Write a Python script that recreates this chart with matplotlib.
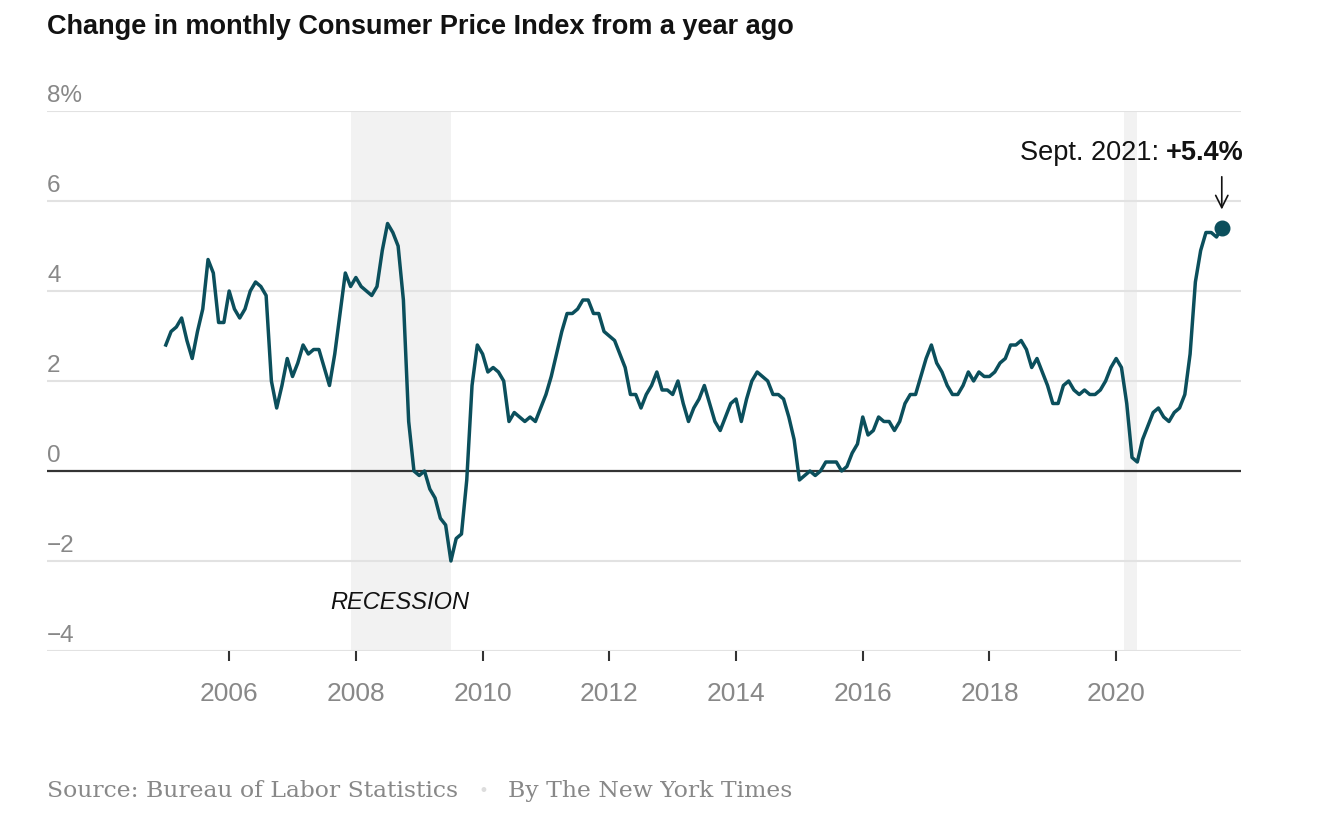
import numpy as np
import matplotlib.pyplot as plt

# Daten: Veraenderung des Verbraucherpreisindex zum Vorjahresmonat (%), Jan 2005 - Sep 2021
start_year = 2005
cpi_2005 = [2.8, 3.1, 3.2, 3.4, 2.9, 2.5, 3.1, 3.6, 4.7, 4.4, 3.3, 3.3]
cpi_2006 = [4.0, 3.6, 3.4, 3.6, 4.0, 4.2, 4.1, 3.9, 2.0, 1.4, 1.9, 2.5]
cpi_2007 = [2.1, 2.4, 2.8, 2.6, 2.7, 2.7, 2.3, 1.9, 2.6, 3.5, 4.4, 4.1]
cpi_2008 = [4.3, 4.1, 4.0, 3.9, 4.1, 4.9, 5.5, 5.3, 5.0, 3.8, 1.1, 0.0]
cpi_2009 = [-0.1, 0.0, -0.4, -0.6, -1.05, -1.2, -2.0, -1.5, -1.4, -0.2, 1.9, 2.8]
cpi_2010 = [2.6, 2.2, 2.3, 2.2, 2.0, 1.1, 1.3, 1.2, 1.1, 1.2, 1.1, 1.4]
cpi_2011 = [1.7, 2.1, 2.6, 3.1, 3.5, 3.5, 3.6, 3.8, 3.8, 3.5, 3.5, 3.1]
cpi_2012 = [3.0, 2.9, 2.6, 2.3, 1.7, 1.7, 1.4, 1.7, 1.9, 2.2, 1.8, 1.8]
cpi_2013 = [1.7, 2.0, 1.5, 1.1, 1.4, 1.6, 1.9, 1.5, 1.1, 0.9, 1.2, 1.5]
cpi_2014 = [1.6, 1.1, 1.6, 2.0, 2.2, 2.1, 2.0, 1.7, 1.7, 1.6, 1.2, 0.7]
cpi_2015 = [-0.2, -0.1, 0.0, -0.1, 0.0, 0.2, 0.2, 0.2, 0.0, 0.1, 0.4, 0.6]
cpi_2016 = [1.2, 0.8, 0.9, 1.2, 1.1, 1.1, 0.9, 1.1, 1.5, 1.7, 1.7, 2.1]
cpi_2017 = [2.5, 2.8, 2.4, 2.2, 1.9, 1.7, 1.7, 1.9, 2.2, 2.0, 2.2, 2.1]
cpi_2018 = [2.1, 2.2, 2.4, 2.5, 2.8, 2.8, 2.9, 2.7, 2.3, 2.5, 2.2, 1.9]
cpi_2019 = [1.5, 1.5, 1.9, 2.0, 1.8, 1.7, 1.8, 1.7, 1.7, 1.8, 2.0, 2.3]
cpi_2020 = [2.5, 2.3, 1.5, 0.3, 0.2, 0.7, 1.0, 1.3, 1.4, 1.2, 1.1, 1.3]
cpi_2021 = [1.4, 1.7, 2.6, 4.2, 4.9, 5.3, 5.3, 5.2, 5.4]

recessions = [(2007 + 11 / 12, 2009.5), (2020.125, 2020 + 4 / 12)]
y_ticks = [-4, -2, 0, 2, 4, 6, 8]
y_labels = ["\u22124", "\u22122", "0", "2", "4", "6", "8%"]
x_ticks = [2006, 2008, 2010, 2012, 2014, 2016, 2018, 2020]

cpi = np.array(cpi_2005 + cpi_2006 + cpi_2007 + cpi_2008 + cpi_2009 + cpi_2010
               + cpi_2011 + cpi_2012 + cpi_2013 + cpi_2014 + cpi_2015 + cpi_2016
               + cpi_2017 + cpi_2018 + cpi_2019 + cpi_2020 + cpi_2021)
t = start_year + np.arange(cpi.size) / 12

sans = ["Liberation Sans", "DejaVu Sans"]
line_col = "#0b4f5c"
grey = "#888888"

fig = plt.figure(figsize=(13.44, 8.15), dpi=100)
ax = fig.add_axes([47 / 1344, 1 - 651 / 815, (1241 - 47) / 1344, (651 - 111) / 815])

# Rezessionen schattiert
for a, b in recessions:
    ax.axvspan(a, b, color="#f2f2f2", lw=0, zorder=0)

# Gitternetz
for yv in y_ticks:
    if yv == 0:
        ax.axhline(yv, color="#333333", lw=1.6, zorder=2)
    else:
        ax.axhline(yv, color="#e2e2e2", lw=1.5, zorder=1)
    ax.text(0, yv + 0.33, y_labels[y_ticks.index(yv)], transform=ax.get_yaxis_transform(),
            ha="left", va="center", fontsize=17.5, color=grey, family=sans)

ax.plot(t, cpi, color=line_col, lw=2.5, solid_joinstyle="round", zorder=3)
ax.plot(t[-1], cpi[-1], "o", color=line_col, ms=10.5, zorder=4)

ax.set_xlim(2003.125, 2021.97)
ax.set_ylim(-4, 8)
for s in ax.spines.values():
    s.set_visible(False)
ax.set_yticks([])
ax.set_xticks(x_ticks)
ax.set_xticklabels([str(x) for x in x_ticks], fontsize=19, color=grey, family=sans)
ax.tick_params(axis="x", length=7, width=1.5, color="#333333", pad=15)

ax.text(2008.7, -2.92, "RECESSION", ha="center", va="center", fontsize=17,
        style="italic", color="#121212", family=sans)

# Annotation Sept. 2021
ax.annotate("", xy=(t[-1], 5.75), xytext=(t[-1], 6.6),
            arrowprops=dict(arrowstyle="->", color="#121212", lw=1.2, mutation_scale=22))
bold = ax.text(1244 / 1344, 1 - 153 / 815, "+5.4%", transform=fig.transFigure,
               ha="right", va="center", fontsize=19.5, fontweight="bold", color="#121212", family=sans)
fig.canvas.draw()
bb = bold.get_window_extent(fig.canvas.get_renderer())
fig.text(bb.x0 / 1344, 1 - 153 / 815, "Sept. 2021: ", ha="right", va="center",
         fontsize=19.5, color="#121212", family=sans)

fig.text(47 / 1344, 1 - 27 / 815, "Change in monthly Consumer Price Index from a year ago",
         ha="left", va="center", fontsize=19.5, fontweight="bold", color="#121212",
         family=sans)

serif = ["DejaVu Serif"]
src = fig.text(47 / 1344, 1 - 791 / 815, "Source: Bureau of Labor Statistics", ha="left",
               va="center", fontsize=16.9, color=grey, family=serif)
fig.canvas.draw()
sb = src.get_window_extent(fig.canvas.get_renderer())
fig.text((sb.x1 + 25) / 1344, 1 - 791 / 815, "\u2022", ha="center", va="center",
         fontsize=12, color="#dddddd")
fig.text((sb.x1 + 50) / 1344, 1 - 791 / 815, "By The New York Times", ha="left",
         va="center", fontsize=16.9, color=grey, family=serif)

fig.savefig("out.png", dpi=100)
